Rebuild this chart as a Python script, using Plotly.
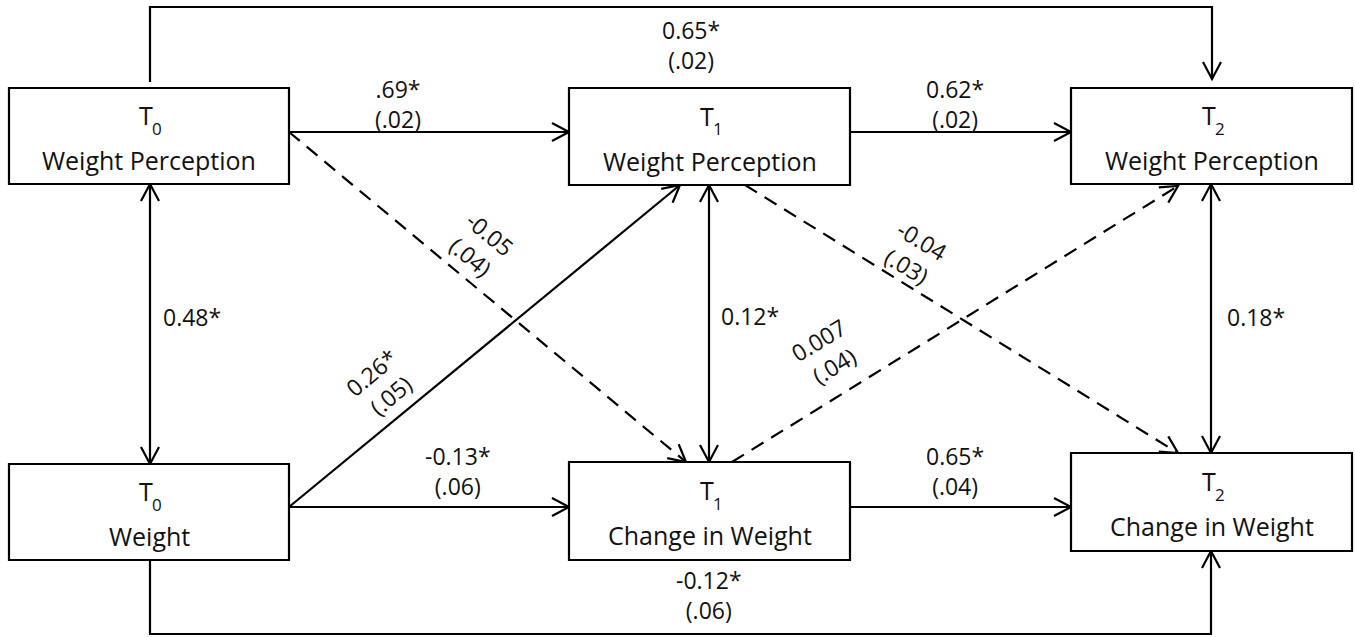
import numpy as np
import plotly.graph_objects as go

# ---------------- data ----------------
node_letter = ["T", "T", "T", "T", "T", "T"]
node_time = ["0", "1", "2", "0", "1", "2"]
node_name = ["Weight Perception", "Weight Perception", "Weight Perception",
             "Weight", "Change in Weight", "Change in Weight"]

path_coef = ["0.65*", ".69*", "0.62*", "-0.13*", "0.65*", "-0.12*",
             "-0.05", "-0.04", "0.26*", "0.007"]
path_se = ["(.02)", "(.02)", "(.02)", "(.06)", "(.04)", "(.06)",
           "(.04)", "(.03)", "(.05)", "(.04)"]
corr_coef = ["0.48*", "0.12*", "0.18*"]

# ---------------- layout geometry (pixels, y down) ----------------
W, H = 1355, 637
boxes = [(9, 88, 289, 184), (569, 88, 850, 185), (1071, 88, 1352, 184),
         (9, 464, 289, 560), (569, 462, 850, 560), (1071, 453, 1352, 551)]

# polyline, dashed, heads ('end' or 'both')
paths = [
    ([(150, 82), (150, 7), (1212, 7), (1212, 79)], False, "end"),
    ([(289, 132), (569, 132)], False, "end"),
    ([(850, 132), (1071, 132)], False, "end"),
    ([(289, 507), (569, 507)], False, "end"),
    ([(850, 507), (1071, 507)], False, "end"),
    ([(150, 560), (150, 634), (1211, 634), (1211, 551)], False, "end"),
    ([(289, 132), (686, 462)], True, "end"),
    ([(745, 185), (1178, 453)], True, "end"),
    ([(289, 507), (680, 185)], False, "end"),
    ([(732, 462), (1178, 186)], True, "end"),
    ([(150, 184), (150, 464)], False, "both"),
    ([(709, 185), (709, 462)], False, "both"),
    ([(1211, 184), (1211, 453)], False, "both"),
]

# label position (x, y, angle) for path labels
path_lab_pos = [(691, 45, 0), (398, 104, 0), (955, 104, 0), (458, 471, 0),
                (955, 471, 0), (709, 595, 0), (480, 245, 40), (914, 253, 31),
                (381, 384, -40), (826, 353, -31)]
corr_lab_pos = [(192, 317), (750, 316), (1256, 317)]

FONT = "Open Sans"
FS = 23
FSB = 25
FSS = 17
LW = 2.2
COL = "#000"
TXT = "#111"
HEAD_L, HEAD_W = 17, 9

fig = go.Figure()
shapes = []
ann = []

for (x0, y0, x1, y1) in boxes:
    shapes.append(dict(type="rect", x0=x0, y0=y0, x1=x1, y1=y1,
                       line=dict(color=COL, width=LW), fillcolor="white", layer="above"))


def head(tip, prev):
    tip = np.array(tip, float)
    prev = np.array(prev, float)
    u = tip - prev
    u /= np.linalg.norm(u)
    n = np.array([-u[1], u[0]])
    a = tip - HEAD_L * u + HEAD_W * n
    b = tip - HEAD_L * u - HEAD_W * n
    return f"M {a[0]},{a[1]} L {tip[0]},{tip[1]} L {b[0]},{b[1]}"


for pts, dashed, heads in paths:
    d = "M " + " L ".join(f"{x},{y}" for x, y in pts)
    shapes.append(dict(type="path", path=d,
                       line=dict(color=COL, width=LW, dash="14px,9px" if dashed else "solid"),
                       layer="below"))
    shapes.append(dict(type="path", path=head(pts[-1], pts[-2]),
                       line=dict(color=COL, width=LW), layer="below"))
    if heads == "both":
        shapes.append(dict(type="path", path=head(pts[0], pts[1]),
                           line=dict(color=COL, width=LW), layer="below"))

for (x0, y0, x1, y1), L, t, name in zip(boxes, node_letter, node_time, node_name):
    cx, cy = (x0 + x1) / 2, (y0 + y1) / 2
    ann.append(dict(x=cx - 3, y=cy - 21, text=L, showarrow=False,
                    font=dict(family=FONT, size=FSB, color=TXT),
                    xanchor="center", yanchor="middle"))
    ann.append(dict(x=cx + 8, y=cy - 8, text=t, showarrow=False,
                    font=dict(family=FONT, size=FSS, color=TXT),
                    xanchor="center", yanchor="middle"))
    ann.append(dict(x=cx, y=cy + 24, text=name, showarrow=False,
                    font=dict(family=FONT, size=FSB, color=TXT),
                    xanchor="center", yanchor="middle"))

for (x, y, ang), c, s in zip(path_lab_pos, path_coef, path_se):
    ann.append(dict(x=x, y=y, text=f"{c}<br>{s}", showarrow=False, textangle=ang,
                    font=dict(family=FONT, size=FS, color=TXT),
                    xanchor="center", yanchor="middle", align="center"))

for (x, y), c in zip(corr_lab_pos, corr_coef):
    ann.append(dict(x=x, y=y, text=c, showarrow=False,
                    font=dict(family=FONT, size=FS, color=TXT),
                    xanchor="center", yanchor="middle"))

fig.update_layout(
    width=W, height=H, margin=dict(l=0, r=0, t=0, b=0),
    paper_bgcolor="white", plot_bgcolor="white",
    xaxis=dict(range=[0, W], visible=False, fixedrange=True),
    yaxis=dict(range=[H, 0], visible=False, fixedrange=True),
    shapes=shapes, annotations=ann, showlegend=False,
)
fig.write_html("out.html", config={"displayModeBar": False},
               post_script="document.body.style.margin='0';document.body.style.overflow='hidden';")
